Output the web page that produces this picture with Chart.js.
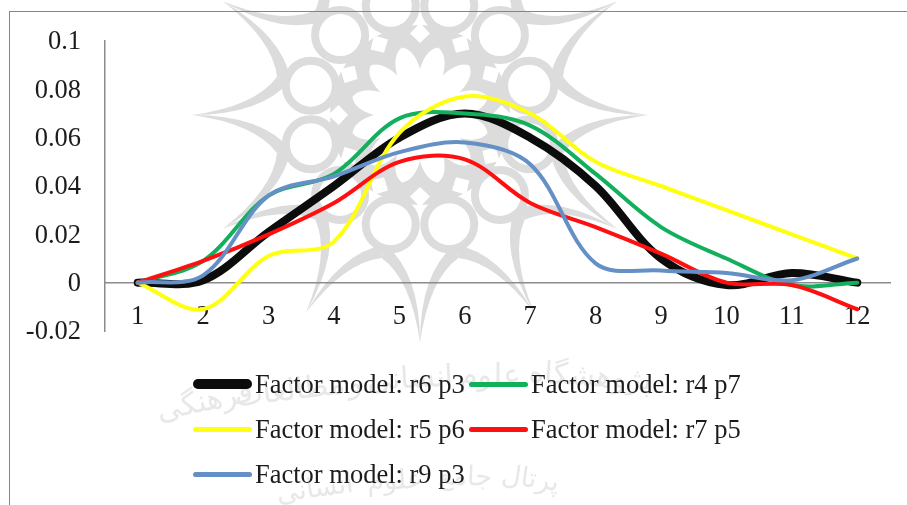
<!DOCTYPE html>
<html>
<head>
<meta charset="utf-8">
<title>Factor model</title>
<script src="https://cdn.jsdelivr.net/npm/chart.js@4"></script>
<style>
  html, body { margin: 0; padding: 0; background: #fff; overflow: hidden; }
  #wrap { position: relative; width: 907px; height: 505px; overflow: hidden; }
  #frame { position: absolute; left: 9px; top: 11px; width: 1000px; height: 600px;
           border-left: 1px solid #858585; border-top: 1px solid #858585; }
  canvas { position: absolute; left: 0; top: 0; }
  .key { position: absolute; height: 40px; display: flex; align-items: center;
         font: 26.5px "Liberation Serif", serif; color: #1c1c1c; white-space: nowrap; }
  .key i { display: block; width: 59px; margin-right: 3px; border-radius: 5px; }
</style>
</head>
<body>
<div id="wrap">
  <canvas id="chart" width="907" height="505"></canvas>
  <div id="frame"></div>
  <div id="legend"></div>
</div>
<script>
const periods = ["1", "2", "3", "4", "5", "6", "7", "8", "9", "10", "11", "12"];
const yTicks = ["-0.02", "0", "0.02", "0.04", "0.06", "0.08", "0.1"];

const r6p3 = [0, 0.001, 0.021, 0.04, 0.06, 0.07, 0.06, 0.04, 0.01, -0.001, 0.004, 0];
const r4p7 = [0, 0.009, 0.036, 0.045, 0.068, 0.07, 0.065, 0.045, 0.023, 0.01, -0.001, 0];
const r5p6 = [0, -0.011, 0.011, 0.017, 0.062, 0.077, 0.07, 0.05, 0.04, 0.03, 0.02, 0.01];
const r7p5 = [0, 0.009, 0.02, 0.033, 0.05, 0.051, 0.033, 0.023, 0.012, 0, -0.001, -0.011];
const r9p3 = [0, 0.003, 0.036, 0.044, 0.054, 0.058, 0.049, 0.008, 0.005, 0.004, 0.001, 0.01];

const seriesNames = ["Factor model: r6 p3", "Factor model: r4 p7", "Factor model: r5 p6", "Factor model: r7 p5", "Factor model: r9 p3"];
const seriesValues = [r6p3, r4p7, r5p6, r7p5, r9p3];
const seriesColors = ["#0c0c0c", "#12b05c", "#ffff10", "#ff1010", "#6490c6"];
const seriesWidths = [8, 4, 4, 4, 4];

const WM = "#dcdcdc";

function polar(r, deg) {
  const a = deg * Math.PI / 180;
  return [420 + r * Math.cos(a), 115 + r * Math.sin(a)];
}

// grey rosette behind the chart, 12 spikes
function drawRosette(ctx) {
  ctx.save();
  ctx.fillStyle = WM;
  ctx.strokeStyle = WM;

  // solid middle
  ctx.beginPath();
  ctx.arc(420, 115, 90, 0, Math.PI * 2);
  ctx.fill();

  for (let k = 0; k < 12; k++) {
    const gap = 15 + k * 30;

    // crescents between two spikes
    [-1, 1].forEach((side) => {
      const axis = gap + side * 15;
      const tip = polar(228, axis);
      const outer = polar(165, axis - side * 3);
      const inner = polar(158, axis);
      const p1 = polar(148, gap);
      const p2 = polar(134, gap);
      ctx.beginPath();
      ctx.moveTo(tip[0], tip[1]);
      ctx.quadraticCurveTo(outer[0], outer[1], p1[0], p1[1]);
      ctx.lineTo(p2[0], p2[1]);
      ctx.quadraticCurveTo(inner[0], inner[1], tip[0], tip[1]);
      ctx.closePath();
      ctx.fill();
    });
  }

  // rings, on top of the crescent ends
  for (let k = 0; k < 12; k++) {
    const e = polar(113, 15 + k * 30);
    ctx.beginPath();
    ctx.arc(e[0], e[1], 25, 0, Math.PI * 2);
    ctx.fillStyle = "#fff";
    ctx.fill();
    ctx.lineWidth = 8;
    ctx.stroke();
  }

  ctx.fillStyle = "#fff";
  // small diamonds on the spike lines
  for (let k = 0; k < 12; k++) {
    const deg = k * 30;
    const pts = [polar(92, deg), polar(82, deg + 7), polar(72, deg), polar(82, deg - 7)];
    ctx.beginPath();
    pts.forEach((p, i) => (i ? ctx.lineTo(p[0], p[1]) : ctx.moveTo(p[0], p[1])));
    ctx.closePath();
    ctx.fill();
  }

  // white star in the middle
  ctx.beginPath();
  for (let k = 0; k < 12; k++) {
    const deg = k * 30;
    const valley = polar(46, deg), peak = polar(70, deg + 15), next = polar(46, deg + 30);
    const c1 = polar(66, deg + 5), c2 = polar(66, deg + 25);
    if (k === 0) ctx.moveTo(valley[0], valley[1]);
    ctx.quadraticCurveTo(c1[0], c1[1], peak[0], peak[1]);
    ctx.quadraticCurveTo(c2[0], c2[1], next[0], next[1]);
  }
  ctx.closePath();
  ctx.fill();
  ctx.restore();
}

// words along an arc so each word keeps its joined letters
function drawArcText(ctx, words, xs, ys, angs, size) {
  ctx.save();
  ctx.fillStyle = "#e8e8e8";
  ctx.font = size + 'px "DejaVu Sans"';
  ctx.textAlign = "center";
  ctx.textBaseline = "middle";
  words.forEach((w, i) => {
    ctx.save();
    ctx.translate(xs[i], ys[i]);
    ctx.rotate(angs[i] * Math.PI / 180);
    ctx.fillText(w, 0, 0);
    ctx.restore();
  });
  ctx.restore();
}

const watermark = {
  id: "watermark",
  beforeDraw(chart) {
    const ctx = chart.ctx;
    drawRosette(ctx);
    drawArcText(ctx, ["پژوهشگاه", "علوم", "انسانی", "و", "مطالعات", "فرهنگی"],
      [590, 490, 410, 355, 290, 205], [378, 377, 380, 385, 392, 403], [4, 0, -3, -5, -7, -12], 30);
    drawArcText(ctx, ["پرتال", "جامع", "علوم", "انسانی"],
      [530, 465, 395, 315], [480, 478, 482, 490], [8, 2, -3, -8], 27);
  },
};

const datasets = seriesNames.map((name, i) => ({
  label: name,
  data: seriesValues[i],
  borderColor: seriesColors[i],
  borderWidth: seriesWidths[i],
  borderCapStyle: "round",
  borderJoinStyle: "round",
  tension: 0.34,
  pointRadius: 0,
  fill: false,
  clip: false,
  order: seriesNames.length - i,
}));

new Chart(document.getElementById("chart").getContext("2d"), {
  type: "line",
  data: { labels: periods, datasets },
  plugins: [watermark],
  options: {
    responsive: false,
    animation: false,
    devicePixelRatio: 1,
    layout: { padding: { left: 0, top: 41, right: 17, bottom: 174 } },
    plugins: { legend: { display: false }, tooltip: { enabled: false } },
    scales: {
      x: {
        position: { y: 0 },
        offset: true,
        grid: { display: false, drawTicks: false, offset: true },
        border: { color: "#8c8c8c", width: 1.5 },
        ticks: {
          color: "#1c1c1c",
          padding: 18,
          maxRotation: 0,
          autoSkip: false,
          font: { family: "Liberation Serif", size: 26.5 },
        },
      },
      y: {
        min: -0.02,
        max: 0.1,
        afterFit: (scale) => { scale.width = 105; },
        grid: { display: false, drawTicks: false },
        border: { color: "#8c8c8c", width: 1.5 },
        ticks: {
          stepSize: 0.02,
          color: "#1c1c1c",
          padding: 24,
          labelOffset: 1.5,
          font: { family: "Liberation Serif", size: 26.5 },
          callback: (v, i) => yTicks[i],
        },
      },
    },
  },
});

// legend in two columns, like the original
const legendEl = document.getElementById("legend");
const keyLeft = [193, 469];
const keyRows = [384, 429, 474];
const keySlots = [[0, 0], [1, 0], [0, 1], [1, 1], [0, 2]];
seriesNames.forEach((name, i) => {
  const [col, row] = keySlots[i];
  const key = document.createElement("div");
  key.className = "key";
  key.style.left = keyLeft[col] + "px";
  key.style.top = keyRows[row] - 20 + "px";
  const swatch = document.createElement("i");
  swatch.style.background = seriesColors[i];
  swatch.style.height = (i === 0 ? 10 : 5) + "px";
  const text = document.createElement("span");
  text.textContent = name;
  key.appendChild(swatch);
  key.appendChild(text);
  legendEl.appendChild(key);
});
</script>
</body>
</html>
